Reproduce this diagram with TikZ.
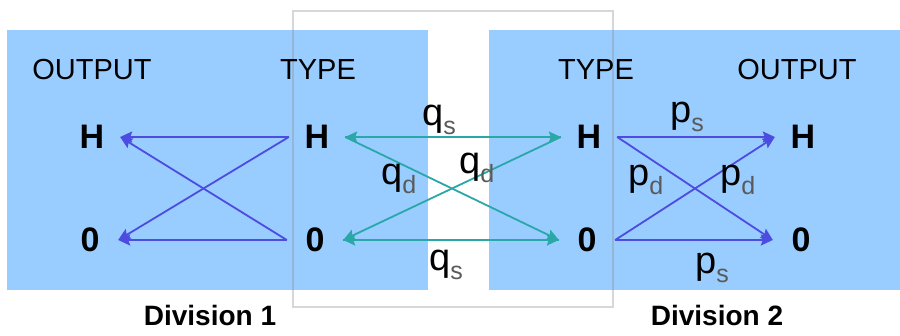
\documentclass[tikz,border=0pt]{standalone}
\usepackage{fontspec}
\setmainfont{Liberation Sans}
\usetikzlibrary{arrows.meta}
\definecolor{panelblue}{HTML}{99CCFF}
\definecolor{linkblue}{HTML}{4C4CE0}
\definecolor{linkteal}{HTML}{2AA8A8}
\definecolor{subgray}{HTML}{5A5A5A}
\definecolor{framegray}{HTML}{8C8C8C}
% probability label: large letter with a smaller grey subscript
\newcommand{\prob}[2]{{\fontsize{38pt}{38pt}\selectfont #1}{\fontsize{25pt}{25pt}\selectfont\color{subgray}\raisebox{-9pt}{#2}}}
\begin{document}
\begin{tikzpicture}[x=1pt,y=-1pt,
  heading/.style={font=\fontsize{29pt}{29pt}\selectfont, anchor=base, inner sep=0pt},
  state/.style={font=\fontsize{34pt}{34pt}\selectfont\bfseries, minimum width=56pt, inner sep=0pt},
  divlabel/.style={font=\fontsize{28pt}{28pt}\selectfont\bfseries, anchor=base, inner sep=0pt},
  plabel/.style={anchor=base west, inner sep=0pt},
  bluearrow/.style={draw=linkblue, line width=1.8pt, -{Stealth[length=12pt,width=11pt,inset=2pt]}},
  tealarrow/.style={draw=linkteal, line width=1.8pt, -{Stealth[length=12pt,width=11pt,inset=2pt]}}
]
\useasboundingbox (0,0) rectangle (900,335);

% division panels
\fill[panelblue] (7,30) rectangle (428,290);
\fill[panelblue] (489,30) rectangle (900,290);

% frame around the exchange between the two divisions
\draw[framegray, opacity=0.35, line width=2pt] (293,11) rectangle (613,307);

% column headings
\node[heading] (h1) at (92,79) {OUTPUT};
\node[heading] (h2) at (318,79) {TYPE};
\node[heading] (h3) at (596,79) {TYPE};
\node[heading] (h4) at (797,79) {OUTPUT};

% states
\node[state] (o1H) at (92,137) {H};
\node[state] (o10) at (90,240) {0};
\node[state] (t1H) at (317,137) {H};
\node[state] (t10) at (315,240) {0};
\node[state] (t2H) at (589,137) {H};
\node[state] (t20) at (587,240) {0};
\node[state] (o2H) at (803,137) {H};
\node[state] (o20) at (801,240) {0};

% division 1: type -> output
\draw[bluearrow] (t1H.west) -- (o1H.east);
\draw[bluearrow] (t1H.west) -- (o10.east);
\draw[bluearrow] (t10.west) -- (o1H.east);
\draw[bluearrow] (t10.west) -- (o10.east);

% division 2: type -> output
\draw[bluearrow] (t2H.east) -- (o2H.west);
\draw[bluearrow] (t2H.east) -- (o20.west);
\draw[bluearrow] (t20.east) -- (o2H.west);
\draw[bluearrow] (t20.east) -- (o20.west);

% exchange of types between the divisions
\draw[tealarrow] (t1H.east) -- (t2H.west);
\draw[tealarrow] (t2H.west) -- (t1H.east);
\draw[tealarrow] (t10.east) -- (t20.west);
\draw[tealarrow] (t20.west) -- (t10.east);
\draw[tealarrow] (t1H.east) -- (t20.west);
\draw[tealarrow] (t2H.west) -- (t10.east);

% transition probabilities
\node[plabel] (qs1) at (422,125) {\prob{q}{s}};
\node[plabel] (qs2) at (429,270) {\prob{q}{s}};
\node[plabel] (qd1) at (381,184) {\prob{q}{d}};
\node[plabel] (qd2) at (459,173) {\prob{q}{d}};
\node[plabel] (ps1) at (670,122) {\prob{p}{s}};
\node[plabel] (pd1) at (628,185) {\prob{p}{d}};
\node[plabel] (pd2) at (720,185) {\prob{p}{d}};
\node[plabel] (ps2) at (695,273) {\prob{p}{s}};

% division names
\node[divlabel] (d1) at (210,325) {Division 1};
\node[divlabel] (d2) at (717,325) {Division 2};
\end{tikzpicture}
\end{document}
